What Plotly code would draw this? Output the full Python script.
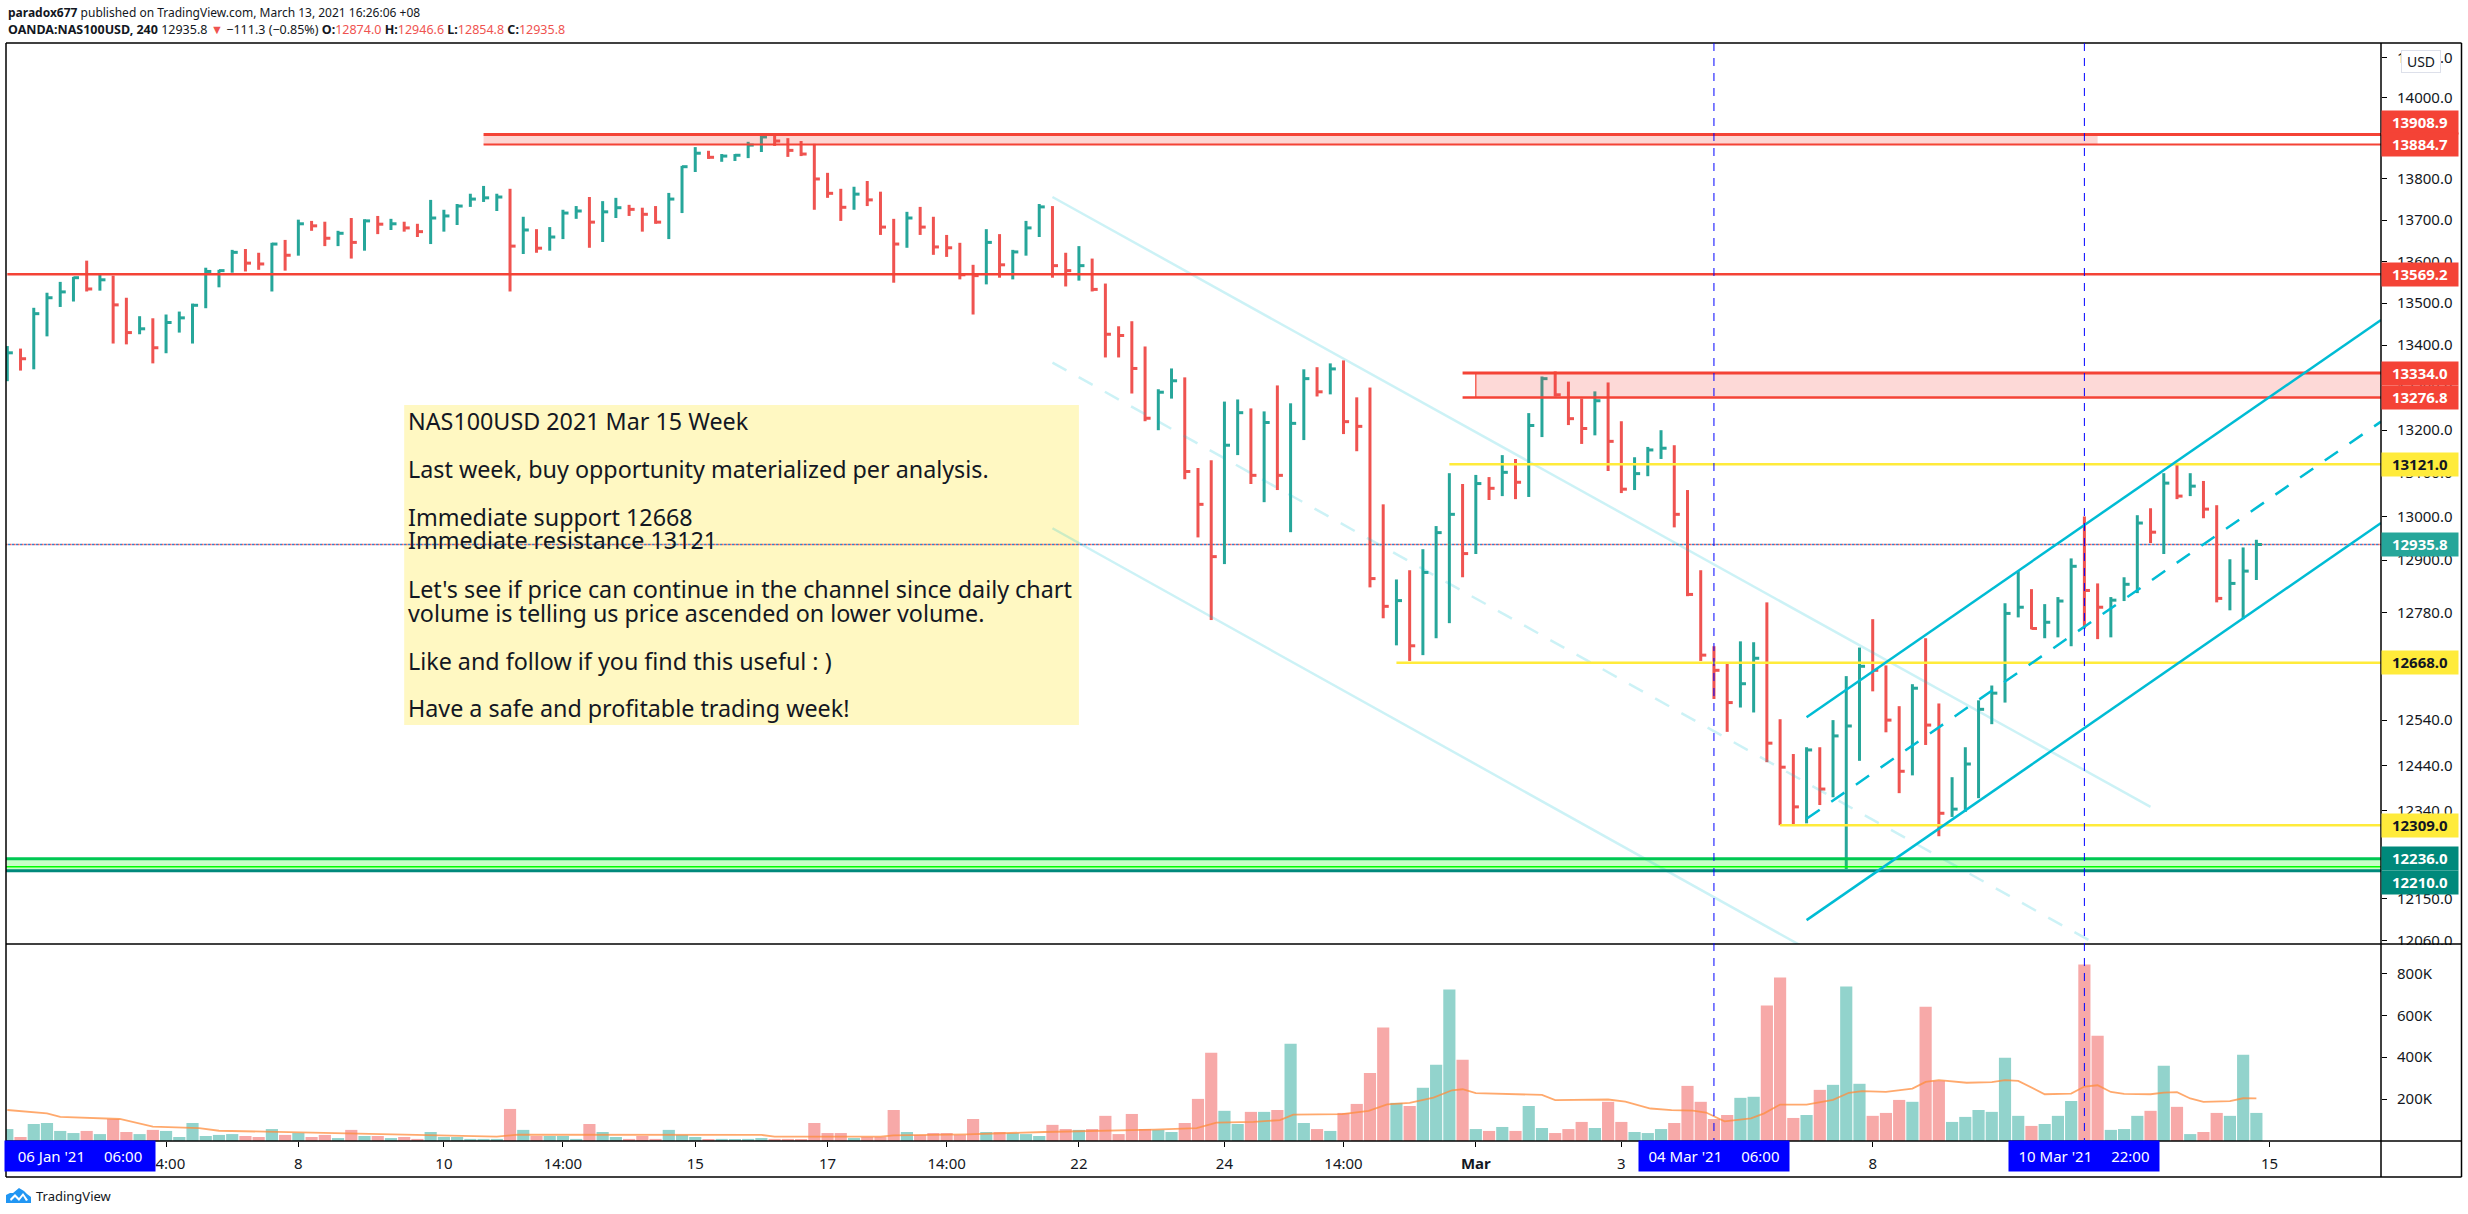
import math
import plotly.graph_objects as go

# ---- price bars ----
high = [13398,13392,13489,13525,13551,13563,13602,13568,13566,13513,
13469,13464,13473,13480,13499,13585,13580,13628,13630,13621,
13645,13652,13701,13698,13696,13674,13705,13702,13710,13703,
13696,13691,13749,13725,13739,13764,13783,13764,13776,13708,
13678,13683,13725,13734,13756,13746,13754,13737,13730,13734,
13766,13832,13878,13869,13861,13861,13891,13906,13908,13900,
13893,13886,13815,13776,13781,13795,13769,13703,13720,13732,
13708,13664,13645,13592,13678,13666,13628,13698,13739,13734,
13621,13637,13607,13547,13445,13457,13397,13296,13345,13324,
13112,13130,13267,13272,13251,13244,13305,13263,13343,13348,
13357,13364,13277,13300,13028,12856,12877,12925,12978,13100,
13075,13096,13091,13142,13133,13240,13326,13338,13314,13274,
13291,13312,13221,13137,13161,13200,13165,13061,12877,12705,
12669,12716,12714,12804,12542,12465,12480,12480,12540,12638,
12702,12766,12662,12571,12620,12723,12577,12414,12480,12584,
12617,12802,12875,12834,12800,12816,12904,13000,12847,12816,
12861,13003,13019,13100,13124,13100,13082,13026,12902,12929,12946.6]
low = [13315,13340,13343,13421,13491,13504,13528,13530,13404,13402,
13426,13357,13381,13430,13404,13488,13538,13573,13576,13580,
13528,13578,13614,13674,13637,13637,13607,13626,13666,13676,
13672,13659,13642,13672,13688,13732,13744,13722,13528,13618,
13621,13626,13654,13703,13633,13647,13705,13710,13672,13691,
13654,13717,13817,13849,13842,13844,13851,13866,13881,13854,
13856,13725,13754,13698,13725,13734,13664,13549,13633,13664,
13616,13611,13557,13473,13545,13561,13557,13614,13659,13561,
13540,13554,13528,13371,13371,13286,13221,13200,13274,13086,
12952,12764,12891,13142,13075,13033,13061,12964,13177,13279,
13284,13191,13151,12838,12768,12707,12672,12685,12723,12757,
12861,12914,13038,13047,13040,13045,13184,13279,13212,13168,
13188,13105,13054,13061,13093,13133,12975,12818,12672,12587,
12514,12568,12557,12447,12309,12311,12313,12353,12370,12214,
12450,12604,12513,12379,12418,12485,12285,12327,12338,12368,
12531,12579,12770,12743,12723,12725,12705,12745,12721,12725,
12807,12825,12939,12914,13040,13047,12996,12804,12786,12766,12854.8]
close = [13382,13368,13475,13513,13527,13561,13534,13556,13496,13430,
13439,13394,13454,13465,13495,13576,13578,13622,13596,13594,
13642,13615,13691,13686,13656,13668,13646,13698,13690,13691,
13681,13672,13705,13710,13734,13751,13754,13756,13637,13676,
13632,13659,13717,13722,13695,13720,13730,13726,13714,13695,
13751,13830,13863,13853,13856,13858,13883,13903,13893,13870,
13861,13800,13765,13731,13763,13749,13683,13642,13705,13683,
13635,13633,13568,13566,13646,13592,13623,13681,13732,13590,
13578,13590,13533,13426,13423,13345,13228,13289,13316,13104,
13028,12908,13165,13241,13095,13218,13095,13216,13321,13290,
13344,13220,13209,12858,12795,12808,12706,12872,12963,13005,
12915,13076,13065,13102,13079,13211,13321,13283,13227,13204,
13269,13174,13063,13099,13154,13158,13005,12822,12685,12651,
12579,12621,12678,12489,12436,12349,12474,12388,12505,12527,
12660,12651,12540,12427,12611,12529,12335,12344,12443,12564,
12600,12779,12793,12745,12759,12807,12886,12831,12793,12809,
12845,12985,12964,13077,13047,13070,13017,12813,12847,12875,12935.8]
direction = list("GRGGGGRGRR" "GRGGGGGGRR" "GRGRRGRGRG" "RRGGGGGGRG" "RGGGRGGRRR"
                 "GGGRGGGGRR" "RRRRGRRRGR" "RRRRGRGGGR" "RGRRRRRGGR" "RRGGRGRGGR"
                 "GRRRRGRGGG" "RGRGRGGRRR" "GRRGGGRRRR" "RGGRRRGRGG" "GRRRGRRGGG"
                 "GGGRGGGRRG" "GGRGRGRRGGG")
volume_k = [57,19,81,86,48,38,48,33,105,43,
33,53,48,19,86,24,29,33,24,19,
57,29,38,19,29,14,53,24,24,14,
19,10,43,19,19,10,10,10,153,53,
24,24,24,10,81,43,19,10,24,10,
53,29,19,5,10,5,10,14,10,10,
5,86,38,38,14,19,19,148,43,29,
38,38,29,105,43,43,38,33,24,77,
57,53,57,120,33,129,57,53,43,86,
201,421,144,81,139,139,148,464,86,57,
48,134,177,325,541,182,167,254,364,723,
388,57,48,67,48,167,62,38,57,91,
62,187,91,43,38,57,86,263,187,105,
124,206,211,646,780,110,124,244,268,737,
273,120,134,196,187,641,287,91,115,148,
139,397,120,72,81,120,191,842,502,53,
57,120,144,359,163,33,43,134,120,412,134]

# ---- volume moving average, read at its visible vertices ----
ma_bar = [0,3,4,7,8.5,11,14.5,16,21,27,33,37,38.6,51,57,58,60.7,62,66,67,72.5,78.4,84,86.7,89.9,91.4,
          94.2,96.2,97.2,100.9,102.9,104.3,106,107.8,109.2,110,111,116,117,121,122.3,123.4,124.2,125.8,
          127.4,128.4,129.8,131.8,132.8,134,136,138,139.2,140.2,142,144,145,146,148.1,150,151,152,154,
          156,157,158,159,160,162,163,164,165,166,168,169,170]
ma_k = [148,132,115,110,105,69,61,49,43,35,29,21,30,30,29,21,21,21,21,27,32,43,49,54,61,88,
        91,100,126,128,144,175,182,207,242,247,228,220,195,198,188,171,155,147,
        145,136,94,108,132,174,174,196,230,238,234,250,282,290,278,281,290,287,223,
        226,260,266,234,225,223,231,233,203,187,190,204,203]

# ---- axis ticks ----
price_ticks = [14100,14000,13900,13800,13700,13600,13500,13400,13300,13200,13100,13000,12900,
               12780,12660,12540,12440,12340,12240,12150,12060]
volume_ticks = [200000,400000,600000,800000]
volume_labels = ["200K","400K","600K","800K"]
time_ticks = [12,22,33,42,52,62,71,81,92,101,111,122,141,171]
time_labels = ["14:00","8","10","14:00","15","17","14:00","22","24","14:00","<b>Mar</b>","3","8","15"]

# ---- drawings: level, first bar, colour, width ----
X_END = 179.42
levels = [(13908.9,36,"#f44336",3),(13884.7,36,"#f44336",2),(13569.2,0,"#f44336",2.5),
          (13334.0,110,"#f44336",3),(13276.8,110,"#f44336",2.5),
          (13121.0,109,"#ffeb3b",2.5),(12668.0,105,"#ffeb3b",2.5),(12309.0,134,"#ffeb3b",2.5),
          (12236.0,-1,"#00c853",3),(12219.0,-1,"#00ff00",1.5),(12210.0,-1,"#00897b",3)]
zones = [(13884.7,13908.9,36,158,"rgba(244,67,54,0.22)"),
         (13276.8,13334.0,111,X_END,"rgba(244,67,54,0.2)"),
         (12210.0,12236.0,-1,X_END,"rgba(0,255,0,0.22)")]
down_bars = [79,162]
down_channel = [([13756,12349],"solid"),([13359,11988],"dash"),([12973,11641],"solid")]
up_bars = [136,X_END]
up_channel = [([12546.5,13460],"solid"),([12323,13220],"dash"),([12104,12985],"solid")]
note_bars = [30,81]
note_prices = [12529,13259]
last_price = 12935.8
cursor_bars = [129,157]

note_lines = [("NAS100USD 2021 Mar 15 Week",421),("Last week, buy opportunity materialized per analysis.",469),
              ("Immediate support 12668",516.7),("Immediate resistance 13121",540),
              ("Let's see if price can continue in the channel since daily chart",589),
              ("volume is telling us price ascended on lower volume.",612.7),
              ("Like and follow if you find this useful : )",660.7),
              ("Have a safe and profitable trading week!",708)]
price_tags = [(13908.9,"#f44336","#ffffff",12),(13884.7,"#f44336","#ffffff",0),(13569.2,"#f44336","#ffffff",0),
              (13334.0,"#f44336","#ffffff",0),(13276.8,"#f44336","#ffffff",0),(13121.0,"#ffeb3b","#131722",0),
              (12935.8,"#26a69a","#ffffff",0),(12668.0,"#ffeb3b","#131722",0),(12309.0,"#ffeb3b","#131722",0),
              (12236.0,"#00897b","#ffffff",0),(12210.0,"#00897b","#ffffff",-12)]
date_tags = [(5.53,"06 Jan '21"," 06:00"),(129,"04 Mar '21"," 06:00"),(157,"10 Mar '21"," 22:00")]

UP, DOWN = "#26a69a", "#ef5350"
UP_V, DOWN_V = "#92d3cc", "#f7a9a8"
FONT = "Noto Sans"
TXT = "#131722"
L, R, T, B, PANE, AXB = 6, 2381, 43, 1141, 944, 1177
px = lambda v: (v - L) / (R - L)
py = lambda v: (B - v) / (B - T)

fig = go.Figure()
MAIN = dict(xaxis="x2", yaxis="y2", hoverinfo="skip", showlegend=False)

fig.add_trace(go.Scatter(x=[note_bars[0],note_bars[1],note_bars[1],note_bars[0],note_bars[0]],
                         y=[note_prices[0],note_prices[0],note_prices[1],note_prices[1],note_prices[0]],
                         mode="lines", fill="toself", fillcolor="#fff8c2", line=dict(width=0), **MAIN))

fig.add_trace(go.Scatter(x=[-1,X_END], y=[last_price,last_price], mode="lines",
                         line=dict(color="#2f7fd0", width=1.6, dash="0px,2px,2px,0px"), **MAIN))
fig.add_trace(go.Scatter(x=[-1,X_END], y=[last_price,last_price], mode="lines",
                         line=dict(color="#ef5350", width=1.6, dash="1.5px,2.5px"), **MAIN))

for code, colour in (("G",UP),("R",DOWN)):
    xs, ys = [], []
    for i, d in enumerate(direction):
        if d != code:
            continue
        xs += [i, i, None, i, i + 0.42, None]
        ys += [high[i], low[i], None, close[i], close[i], None]
    fig.add_trace(go.Scatter(x=xs, y=ys, mode="lines", line=dict(color=colour, width=3), **MAIN))

for lo, hi, a, b, colour in zones:
    fig.add_trace(go.Scatter(x=[a,b,b,a,a], y=[lo,lo,hi,hi,lo], mode="lines", fill="toself",
                             fillcolor=colour, line=dict(width=0), **MAIN))
for lo, hi, a, b, colour in zones[1:2]:
    fig.add_trace(go.Scatter(x=[a,a], y=[lo,hi], mode="lines", line=dict(color="#f44336", width=1.2), **MAIN))
for prices, dash in down_channel:
    fig.add_trace(go.Scatter(x=down_bars, y=prices, mode="lines",
                             line=dict(color="rgba(0,188,212,0.2)", width=2.5,
                                       dash="solid" if dash == "solid" else "16px,14px"), **MAIN))
for level, start, colour, width in levels:
    fig.add_trace(go.Scatter(x=[start,X_END], y=[level,level], mode="lines",
                             line=dict(color=colour, width=width), **MAIN))
for prices, dash in up_channel:
    fig.add_trace(go.Scatter(x=up_bars, y=prices, mode="lines",
                             line=dict(color="#00bcd4", width=2.5,
                                       dash="solid" if dash == "solid" else "16px,14px"), **MAIN))

fig.add_trace(go.Bar(x=list(range(len(volume_k))), y=[v * 1000 for v in volume_k],
                     marker=dict(color=[UP_V if d == "G" else DOWN_V for d in direction], line=dict(width=0)),
                     hoverinfo="skip", showlegend=False, xaxis="x", yaxis="y"))
fig.add_trace(go.Scatter(x=ma_bar, y=[v * 1000 for v in ma_k], mode="lines",
                         line=dict(color="rgba(255,140,60,0.75)", width=1.8),
                         hoverinfo="skip", showlegend=False, xaxis="x", yaxis="y"))

# ---- annotations ----
ann = []
for text, y in note_lines:
    ann.append(dict(xref="paper", yref="paper", x=px(406), y=py(y), text=text, showarrow=False,
                    xanchor="left", yanchor="middle", font=dict(family=FONT, size=23.3, color=TXT)))
for value, bg, fg, shift in price_tags:
    ann.append(dict(xref="paper", yref="y2", x=1, y=math.log10(value), yshift=shift, text=f"<b>{value:.1f}</b>",
                    showarrow=False, xanchor="left", yanchor="middle", width=76, height=22.5, borderpad=0,
                    bgcolor=bg, font=dict(family=FONT, size=15, color=fg)))
for bar, date, clock in date_tags:
    ann.append(dict(xref="x", yref="paper", x=bar, y=py(1156), text=f"{date}\u2003{clock}", showarrow=False,
                    xanchor="center", yanchor="middle", width=150, height=30, borderpad=0, bgcolor="#0000ff",
                    font=dict(family=FONT, size=15, color="#ffffff")))
ann.append(dict(xref="paper", yref="paper", x=px(2421), y=py(61.5), text="USD", showarrow=False, width=38, height=21,
                xanchor="center", yanchor="middle",
                borderpad=0, bgcolor="#ffffff", bordercolor="#dde0ea", borderwidth=1,
                font=dict(family=FONT, size=14, color=TXT)))
ann.append(dict(xref="paper", yref="paper", x=px(6), y=py(12), xanchor="left", yanchor="middle", showarrow=False,
                text="<b>paradox677</b> published on TradingView.com, March 13, 2021 16:26:06 +08",
                font=dict(family=FONT, size=12, color=TXT)))
RED = '<span style="color:#ef5350">%s</span>'
ann.append(dict(xref="paper", yref="paper", x=px(6), y=py(29), xanchor="left", yanchor="middle", showarrow=False,
                text="<b>OANDA:NAS100USD, 240</b> 12935.8 " + RED % "▼" + " −111.3 (−0.85%) <b>O:</b>" + RED % "12874.0"
                     + " <b>H:</b>" + RED % "12946.6" + " <b>L:</b>" + RED % "12854.8" + " <b>C:</b>" + RED % "12935.8",
                font=dict(family=FONT, size=12.5, color=TXT)))
ann.append(dict(xref="paper", yref="paper", x=px(34), y=py(1195.5), xanchor="left", yanchor="middle", showarrow=False,
                text="TradingView", font=dict(family=FONT, size=13, color=TXT)))

# ---- frame, cursors, logo ----
FRAME = dict(color="#000000", width=1.5)
shapes = []
def rule(x0, y0, x1, y1):
    shapes.append(dict(type="line", xref="paper", yref="paper", x0=px(x0), y0=py(y0), x1=px(x1), y1=py(y1),
                       line=FRAME, layer="above"))
shapes.append(dict(type="rect", xref="paper", yref="paper", x0=px(2382), x1=px(2460), y0=py(945), y1=py(952),
                   fillcolor="#ffffff", line=dict(width=0), layer="above"))
for seg in ((L,T,2461.5,T),(L,T,L,AXB),(2461.5,T,2461.5,AXB),(L,AXB,2461.5,AXB),
            (L,PANE,2461.5,PANE),(L,B,2461.5,B),(R,T,R,AXB)):
    rule(*seg)
for bar in cursor_bars:
    shapes.append(dict(type="line", xref="x", yref="paper", x0=bar, x1=bar, y0=py(1146), y1=1,
                       line=dict(color="#0000ff", width=1, dash="8px,7px"), layer="above"))
def path(points):
    return "M " + " L ".join(f"{px(a):.5f},{py(b):.5f}" for a, b in points) + " Z"
shapes.append(dict(type="path", xref="paper", yref="paper", fillcolor="#2196f3", line=dict(width=0),
                   path=path([(6,1203),(6,1195),(10,1193),(13,1193),(19,1188),(24,1191),(27,1194),(31,1197),(31,1203)])))
shapes.append(dict(type="path", xref="paper", yref="paper", fillcolor="#ffffff", line=dict(width=0),
                   path=path([(10,1199),(15,1194),(19,1198),(23,1193),(28,1200),(26,1201),(23,1196),(19,1201),(15,1197),(11,1201)])))

axis_font = dict(family=FONT, size=15, color=TXT)
vol_top = py(PANE)
fig.update_layout(
    width=2468, height=1214, autosize=False, paper_bgcolor="#ffffff", plot_bgcolor="#ffffff",
    margin=dict(l=L, r=2468 - R, t=T, b=1214 - B, pad=0), barmode="overlay", bargap=0.08,
    showlegend=False, hovermode=False, annotations=ann, shapes=shapes,
    xaxis=dict(domain=[0,1], range=[-0.098,X_END], anchor="y", tickmode="array", tickvals=time_ticks,
               ticktext=time_labels, ticks="outside", ticklen=5, tickcolor="#000000", tickfont=axis_font,
               showgrid=False, zeroline=False, showline=False, ticklabelstandoff=4),
    xaxis2=dict(domain=[0,1], matches="x", anchor="y2", showticklabels=False, ticks="", showgrid=False,
                zeroline=False, showline=False),
    yaxis=dict(domain=[0,vol_top], range=[0,940000], side="right", anchor="x", tickmode="array",
               tickvals=volume_ticks, ticktext=volume_labels, ticks="outside", ticklen=5, tickcolor="#000000",
               tickfont=axis_font, showgrid=False, zeroline=False, showline=False, ticklabelstandoff=7),
    yaxis2=dict(domain=[vol_top,1], type="log", range=[math.log10(12053),math.log10(14136)], side="right",
                anchor="x2", tickmode="array", tickvals=price_ticks, ticktext=[f"{v:.1f}" for v in price_ticks],
                ticks="outside", ticklen=5, tickcolor="#000000", tickfont=axis_font, showgrid=False,
                zeroline=False, showline=False, ticklabelstandoff=7),
)
fig.write_html("out.html", config=dict(displayModeBar=False),
               post_script="document.body.style.margin='0';document.body.style.overflow='hidden';")
